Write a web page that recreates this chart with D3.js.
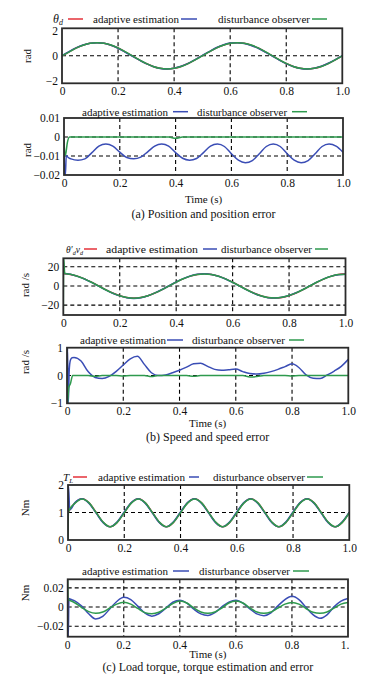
<!DOCTYPE html>
<html>
<head>
<meta charset="utf-8">
<script src="https://cdn.jsdelivr.net/npm/d3@7"></script>
<style>
  body { margin: 0; background: #fff; }
  svg { display: block; font-family: "Liberation Serif", "DejaVu Serif", serif; }
</style>
</head>
<body>
<svg id="fig" width="389" height="677"></svg>
<script>
// time samples shared by all traces (s)
const tMain = [0, 0.025, 0.05, 0.075, 0.1, 0.125, 0.15, 0.175, 0.2, 0.225, 0.25, 0.275, 0.3, 0.325, 0.35, 0.375, 0.4,
  0.425, 0.45, 0.475, 0.5, 0.525, 0.55, 0.575, 0.6, 0.625, 0.65, 0.675, 0.7, 0.725, 0.75, 0.775, 0.8, 0.825, 0.85,
  0.875, 0.9, 0.925, 0.95, 0.975, 1.0];
const xTicks = [0, 0.2, 0.4, 0.6, 0.8, 1.0];
const names = ['adaptive estimation', 'disturbance observer'];

// (a) position, rad
const posRef = [0, 0.32, 0.62, 0.85, 1.0, 1.05, 1.0, 0.85, 0.62, 0.32, 0, -0.32, -0.62, -0.85, -1.0, -1.05, -1.0, -0.85,
  -0.62, -0.32, 0, 0.32, 0.62, 0.85, 1.0, 1.05, 1.0, 0.85, 0.62, 0.32, 0, -0.32, -0.62, -0.85, -1.0, -1.05, -1.0, -0.85,
  -0.62, -0.32, 0];
const posAdapt = [0.01, 0.34, 0.63, 0.86, 1.01, 1.05, 1.0, 0.84, 0.6, 0.3, -0.02, -0.33, -0.63, -0.86, -1.01, -1.05,
  -0.99, -0.84, -0.61, -0.3, 0.02, 0.34, 0.64, 0.87, 1.02, 1.05, 0.99, 0.83, 0.6, 0.3, -0.02, -0.34, -0.63, -0.86, -1.01,
  -1.05, -0.99, -0.84, -0.6, -0.3, 0.01];
const posDob = [0, 0.3, 0.61, 0.84, 1.0, 1.05, 1.0, 0.86, 0.63, 0.33, 0.01, -0.31, -0.61, -0.85, -1.0, -1.05, -1.0, -0.86,
  -0.63, -0.33, -0.01, 0.31, 0.61, 0.84, 1.0, 1.05, 1.0, 0.86, 0.63, 0.33, 0.01, -0.31, -0.61, -0.85, -1.0, -1.05, -1.0,
  -0.86, -0.63, -0.33, -0.01];

// position error, rad
const posErrAdaptT0 = [0, 0.002, 0.005, 0.008, 0.015];
const posErrAdaptV0 = [0, -0.02, -0.02, -0.0098, -0.0108];
const posErrAdapt = [-0.0105, -0.0115, -0.0122, -0.0115, -0.0082, -0.0048, -0.0037, -0.0048, -0.008, -0.0108, -0.0115,
  -0.0106, -0.0078, -0.0048, -0.0037, -0.0048, -0.0082, -0.0112, -0.0122, -0.0113, -0.0082, -0.0048, -0.0037, -0.005,
  -0.0088, -0.0122, -0.0135, -0.0124, -0.0088, -0.005, -0.0037, -0.005, -0.0088, -0.0122, -0.0135, -0.0124, -0.0088,
  -0.005, -0.0037, -0.0048, -0.008];
const posErrDobT0 = [0, 0.003, 0.006, 0.012, 0.02];
const posErrDobV0 = [0, -0.0098, -0.009, -0.003, 0];
const posErrDob = [0, 0, 0, 0, 0, 0, 0, 0, 0, 0, 0, 0, 0, 0, 0, 0, -0.0007, 0, 0, 0, 0, 0, 0, 0, 0, 0, 0, 0, 0, 0, 0, 0,
  0, 0, 0, 0, 0, 0, 0, 0, 0];

// (b) speed, rad/s
const velRef = [12.6, 12.0, 10.2, 7.4, 3.9, 0, -3.9, -7.4, -10.2, -12.0, -12.6, -12.0, -10.2, -7.4, -3.9, 0, 3.9, 7.4,
  10.2, 12.0, 12.6, 12.0, 10.2, 7.4, 3.9, 0, -3.9, -7.4, -10.2, -12.0, -12.6, -12.0, -10.2, -7.4, -3.9, 0, 3.9, 7.4, 10.2,
  12.0, 12.6];
const velAdapt = [13.0, 12.2, 10.0, 7.2, 3.7, -0.2, -4.1, -7.6, -10.4, -12.3, -13.0, -12.3, -10.3, -7.3, -3.7, 0.2, 4.1,
  7.6, 10.3, 12.1, 12.6, 11.9, 10.0, 7.2, 3.7, -0.2, -4.1, -7.6, -10.4, -12.2, -12.5, -11.8, -9.9, -7.1, -3.6, 0.3, 4.2,
  7.6, 10.2, 11.7, 12.2];
const velDobT0 = [0, 0.0015, 0.005, 0.012];
const velDobV0 = [-30, 29, 13.2, 12.6];
const velDob = [12.8, 12.1, 10.1, 7.3, 3.8, -0.1, -4.0, -7.5, -10.3, -12.1, -12.8, -12.1, -10.2, -7.3, -3.8, 0.1, 4.0,
  7.5, 10.2, 12.0, 12.5, 11.9, 10.1, 7.3, 3.8, -0.1, -4.0, -7.5, -10.3, -12.1, -12.6, -11.9, -10.0, -7.2, -3.7, 0.2, 4.1,
  7.5, 10.1, 11.8, 12.3];

// speed error, rad/s
const velErrAdaptT0 = [0, 0.002, 0.0045, 0.008, 0.012, 0.018];
const velErrAdaptV0 = [0, 1.0, -1.0, 0.2, 0.55, 0.64];
const velErrAdapt = [0.6, 0.65, 0.52, 0.14, -0.07, -0.11, -0.03, 0.15, 0.38, 0.6, 0.69, 0.4, 0.1, 0.0, 0.02, 0.1, 0.19,
  0.3, 0.42, 0.44, 0.33, 0.22, 0.19, 0.21, 0.23, 0.14, 0.07, 0.05, 0.08, 0.14, 0.22, 0.32, 0.42, 0.28, 0.02, -0.1, -0.11,
  0.02, 0.16, 0.33, 0.58];
const velErrDobT0 = [0, 0.002, 0.006, 0.012, 0.02];
const velErrDobV0 = [0, -1.0, -0.45, -0.3, 0];
const velErrDob = [0, 0, 0, 0, -0.03, 0, 0, 0, -0.02, 0, 0, 0, -0.04, 0, 0, 0, 0, 0, -0.03, 0, 0, 0, 0, 0, 0, 0, -0.05,
  -0.04, 0, 0, 0, 0, -0.02, 0, 0, 0, 0, 0, 0, 0, 0];

// (c) load torque, Nm
const torqueRef = [1.0, 1.35, 1.5, 1.35, 1.0, 0.64, 0.48, 0.64, 1.0, 1.35, 1.5, 1.35, 1.0, 0.64, 0.48, 0.64, 1.0, 1.35,
  1.5, 1.35, 1.0, 0.64, 0.48, 0.64, 1.0, 1.35, 1.5, 1.35, 1.0, 0.64, 0.48, 0.64, 1.0, 1.35, 1.5, 1.35, 1.0, 0.64, 0.48,
  0.64, 1.0];
const torqueAdaptT0 = [0, 0.002, 0.006, 0.012];
const torqueAdaptV0 = [1.05, 1.95, 1.1, 1.15];
const torqueAdapt = [1.05, 1.36, 1.5, 1.33, 0.98, 0.63, 0.48, 0.66, 1.02, 1.36, 1.5, 1.33, 0.98, 0.63, 0.48, 0.66, 1.02,
  1.36, 1.5, 1.33, 0.98, 0.63, 0.48, 0.66, 1.02, 1.36, 1.5, 1.33, 0.98, 0.63, 0.48, 0.66, 1.02, 1.36, 1.5, 1.33, 0.98,
  0.63, 0.48, 0.66, 1.01];
const torqueDobT0 = [0, 0.0015, 0.008];
const torqueDobV0 = [0, 1.0, 1.15];
const torqueDob = [1.0, 1.34, 1.49, 1.35, 1.0, 0.65, 0.48, 0.64, 0.99, 1.34, 1.49, 1.35, 1.0, 0.65, 0.48, 0.64, 0.99,
  1.34, 1.49, 1.35, 1.0, 0.65, 0.48, 0.64, 0.99, 1.34, 1.49, 1.35, 1.0, 0.65, 0.48, 0.64, 0.99, 1.34, 1.49, 1.35, 1.0,
  0.65, 0.48, 0.64, 0.99];

// torque error, Nm
const torqueErrAdaptT0 = [0, 0.002, 0.0045, 0.01];
const torqueErrAdaptV0 = [0.008, -0.031, 0.009, 0.0082];
const torqueErrAdapt = [0.008, 0.0065, 0.001, -0.007, -0.0125, -0.0098, -0.002, 0.0058, 0.0102, 0.0078, 0.001, -0.0062,
  -0.0095, -0.007, -0.0012, 0.005, 0.0072, 0.0042, -0.0022, -0.0072, -0.0088, -0.0058, 0.0002, 0.0052, 0.0072, 0.0042,
  -0.002, -0.0072, -0.009, -0.006, 0.0012, 0.0078, 0.0112, 0.0078, -0.0002, -0.008, -0.0118, -0.0082, 0.0002, 0.0062,
  0.009];
const torqueErrDobT0 = [0, 0.0015, 0.008];
const torqueErrDobV0 = [0.029, 0.0075, 0.0068];
const torqueErrDob = [0.007, 0.0045, -0.0005, -0.0048, -0.0065, -0.0052, -0.001, 0.003, 0.005, 0.003, -0.0015, -0.0058,
  -0.007, -0.0055, -0.0012, 0.0035, 0.0062, 0.0042, -0.001, -0.0052, -0.0066, -0.0052, -0.001, 0.0042, 0.0062, 0.0042,
  -0.001, -0.0052, -0.0066, -0.0052, -0.001, 0.003, 0.0048, 0.003, -0.0015, -0.0055, -0.0065, -0.0052, -0.0012, 0.003,
  0.0048];

const RED = '#e5323a', BLUE = '#3a4db5', GREEN = '#2e9a4e';

// start transient (own samples) followed by the regular samples
function trace(main, t0, v0) {
  const pts = t0 ? t0.map((t, i) => [t, v0[i]]) : [];
  const last = t0 ? t0[t0.length - 1] : -1;
  tMain.forEach((t, i) => { if (t > last) pts.push([t, main[i]]); });
  return pts;
}

// leg: symbol x, red line x1/x2, text1 x, blue x1/x2, text2 x, green x1/x2; legW: the two text widths
const panels = [
  { box: [62, 28.3, 342.3, 83.3], y: [-2.2, 2.2], ticks: [-2, 0, 2], fmt: 'd', grid: [0],
    ylab: 'rad', ylabPos: [27, 56], legY: 19, sym: 'theta', leg: [53, 68, 83, 93, 181, 197, 218, 312, 327],
    legW: [86, 92],
    series: [[posRef, RED], [posAdapt, BLUE], [posDob, GREEN]].map(([v, c]) => ({ pts: trace(v), c })) },
  { box: [64, 118, 343, 175], y: [-0.02, 0.01], ticks: [-0.02, -0.01, 0, 0.01], fmt: '.2f', grid: [0, -0.01],
    ylab: 'rad', ylabPos: [27, 150], legY: 111.7, leg: [null, null, null, 82, 173, 188, 197, 292, 307],
    legW: [86, 90],
    series: [{ pts: trace(posErrAdapt, posErrAdaptT0, posErrAdaptV0), c: BLUE },
             { pts: trace(posErrDob, posErrDobT0, posErrDobV0), c: GREEN }],
    time: 203, caption: '(a) Position and position error', capY: 218 },
  { box: [63.3, 258.3, 345.5, 315], y: [-30.3, 28.8], ticks: [-20, 0, 20], fmt: 'd', grid: [20, 0, -20],
    ylab: 'rad /s', ylabPos: [25, 285], legY: 249, sym: 'vel', leg: [66, 84, 97, 106, 203, 217, 221, 315, 328],
    legW: [92, 91],
    series: [{ pts: trace(velRef), c: RED }, { pts: trace(velAdapt), c: BLUE },
             { pts: trace(velDob, velDobT0, velDobV0), c: GREEN }] },
  { box: [67, 347.7, 348.3, 403.3], y: [-1, 1], ticks: [-1, 0, 1], fmt: 'd', grid: [0],
    ylab: 'rad /s', ylabPos: [25, 362], legY: 340, leg: [null, null, null, 80, 167, 183, 192, 289, 304],
    legW: [86, 93],
    series: [{ pts: trace(velErrAdapt, velErrAdaptT0, velErrAdaptV0), c: BLUE },
             { pts: trace(velErrDob, velErrDobT0, velErrDobV0), c: GREEN }],
    time: 427, caption: '(b) Speed and speed error', capY: 441 },
  { box: [68, 485, 349.3, 540], y: [0, 2], ticks: [0, 1, 2], fmt: 'd', grid: [1],
    ylab: 'Nm', ylabPos: [25, 508], legY: 477, sym: 'torque', leg: [63, 73, 87, 98, 189, 199, 213, 307, 323],
    legW: [87, 92],
    series: [{ pts: trace(torqueRef), c: RED }, { pts: trace(torqueAdapt, torqueAdaptT0, torqueAdaptV0), c: BLUE },
             { pts: trace(torqueDob, torqueDobT0, torqueDobV0), c: GREEN }] },
  { box: [67.7, 579.3, 348, 636.7], y: [-0.031, 0.029], ticks: [-0.02, 0, 0.02], fmt: '.2f', grid: [0.02, 0, -0.02],
    ylab: 'Nm', ylabPos: [25, 593], legY: 571, leg: [null, null, null, 82, 173, 189, 199, 293, 309],
    legW: [86, 91],
    series: [{ pts: trace(torqueErrAdapt, torqueErrAdaptT0, torqueErrAdaptV0), c: BLUE },
             { pts: trace(torqueErrDob, torqueErrDobT0, torqueErrDobV0), c: GREEN }],
    time: 658, caption: '(c) Load torque, torque estimation and error', capY: 671, cutRight: 349 }
];

const svg = d3.select('#fig');
const defs = svg.append('defs');

function symbol(text, kind) {
  const it = (s, dy, size) => text.append('tspan').attr('font-style', 'italic').attr('dy', dy)
    .attr('font-size', size).text(s);
  if (kind === 'theta') { it('θ', 0, 12); it('d', 2, 8); }
  if (kind === 'vel') {
    it('θ′', 0, 10); it('d', 2, 6.5); it('v', -2, 10); it('d', 2, 6.5);
    text.attr('textLength', 17).attr('lengthAdjust', 'spacingAndGlyphs');
  }
  if (kind === 'torque') { it('T', 0, 11); it('L', 2, 7); }
}

panels.forEach((p, k) => {
  const [x0, y0, x1, y1] = p.box;
  const x = d3.scaleLinear().domain([0, 1]).range([x0, x1]);
  const y = d3.scaleLinear().domain(p.y).range([y1, y0]);
  const g = svg.append('g');

  defs.append('clipPath').attr('id', `clip${k}`).append('rect')
    .attr('x', x0).attr('y', y0).attr('width', x1 - x0).attr('height', y1 - y0);

  // dashed grid
  g.append('g').selectAll('line').data(xTicks.slice(1, -1)).join('line')
    .attr('x1', d => x(d)).attr('x2', d => x(d)).attr('y1', y0).attr('y2', y1)
    .attr('stroke', '#000').attr('stroke-width', 1.1).attr('stroke-dasharray', '4,3');
  g.append('g').selectAll('line').data(p.grid).join('line')
    .attr('x1', x0).attr('x2', x1).attr('y1', d => y(d)).attr('y2', d => y(d))
    .attr('stroke', '#000').attr('stroke-width', 1.1).attr('stroke-dasharray', '4,3');

  const line = d3.line().x(d => x(d[0])).y(d => y(d[1])).curve(d3.curveMonotoneX);
  g.append('g').attr('clip-path', `url(#clip${k})`)
    .selectAll('path').data(p.series).join('path')
    .attr('d', d => line(d.pts)).attr('fill', 'none')
    .attr('stroke', d => d.c).attr('stroke-width', 1.5);

  g.append('rect').attr('x', x0).attr('y', y0).attr('width', x1 - x0).attr('height', y1 - y0)
    .attr('fill', 'none').attr('stroke', '#2b2b2b').attr('stroke-width', 1.8);

  // axes
  const xAxis = g.append('g').attr('transform', `translate(0,${y1})`)
    .call(d3.axisBottom(x).tickValues(xTicks).tickSize(0).tickPadding(4)
      .tickFormat(d => d === 0 ? '0' : d3.format('.1f')(d)));
  const yAxis = g.append('g').attr('transform', `translate(${x0},0)`)
    .call(d3.axisLeft(y).tickValues(p.ticks).tickSize(0).tickPadding(4)
      .tickFormat(d => d === 0 ? '0' : d3.format(p.fmt)(d)));
  [xAxis, yAxis].forEach(a => {
    a.select('.domain').remove();
    a.attr('font-family', null).attr('font-size', 11.5);
    a.selectAll('text').attr('fill', '#111');
  });
  if (p.cutRight) {
    defs.append('clipPath').attr('id', `cut${k}`).append('rect')
      .attr('x', 0).attr('y', 0).attr('width', p.cutRight).attr('height', 677);
    xAxis.attr('clip-path', `url(#cut${k})`);
    xAxis.attr('transform', null).selectAll('.tick')
      .attr('transform', d => `translate(${x(d)},${y1})`);
  }

  // y label
  svg.append('text').attr('transform', `translate(${p.ylabPos[0] + 4},${p.ylabPos[1]}) rotate(-90)`)
    .attr('text-anchor', 'middle').attr('font-size', 11).attr('fill', '#111').text(p.ylab);

  // legend
  const L = p.leg, ly = p.legY;
  const lg = svg.append('g').attr('font-size', 11).attr('fill', '#111');
  if (L[0] !== null) {
    symbol(lg.append('text').attr('x', L[0]).attr('y', ly + 4), p.sym);
    lg.append('line').attr('x1', L[1]).attr('x2', L[2]).attr('y1', ly).attr('y2', ly)
      .attr('stroke', RED).attr('stroke-width', 1.5);
  }
  [[L[3], L[4], L[5], BLUE, names[0], p.legW[0]], [L[6], L[7], L[8], GREEN, names[1], p.legW[1]]]
    .forEach(([tx, a, b, c, s, w]) => {
      lg.append('text').attr('x', tx).attr('y', ly + 4)
        .attr('textLength', w).attr('lengthAdjust', 'spacingAndGlyphs').text(s);
      lg.append('line').attr('x1', a).attr('x2', b).attr('y1', ly).attr('y2', ly)
        .attr('stroke', c).attr('stroke-width', 1.5);
    });

  if (p.time) {
    svg.append('text').attr('x', (x0 + x1) / 2).attr('y', p.time).attr('text-anchor', 'middle')
      .attr('font-size', 11).attr('fill', '#111').text('Time (s)');
    svg.append('text').attr('x', (x0 + x1) / 2).attr('y', p.capY).attr('text-anchor', 'middle')
      .attr('font-size', 12).attr('fill', '#111').text(p.caption);
  }
});
</script>
</body>
</html>
